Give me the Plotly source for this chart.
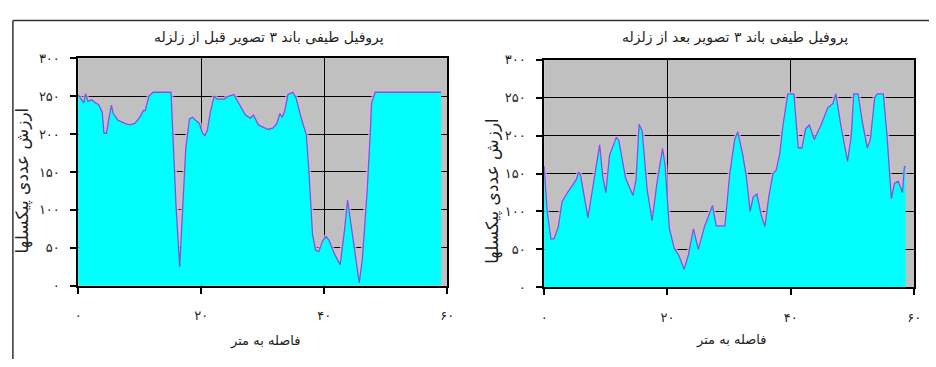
import plotly.graph_objects as go

# Band 3 spectral profile before the earthquake (distance in metres, pixel value)
before_dist = [0, 0.5, 0.9, 1.2, 1.6, 2.2, 2.8, 3.3, 3.9, 4.2, 4.6, 4.9, 5.4, 5.7,
               6.5, 7.6, 8.4, 9.2, 10.0, 10.6, 10.9, 11.5, 12.2, 15.1, 15.4, 15.9,
               16.5, 17.0, 17.5, 18.1, 18.6, 19.1, 19.7, 20.2, 20.6, 21.0, 21.5,
               22.1, 22.6, 23.7, 24.5, 25.3, 26.1, 27.2, 28.0, 28.5, 29.3, 30.4,
               30.9, 31.7, 32.3, 32.8, 33.2, 33.6, 34.1, 34.9, 35.4, 36.3, 37.1,
               37.5, 38.1, 38.6, 39.1, 39.8, 40.3, 40.8, 41.6, 42.6, 43.3, 43.8,
               44.6, 45.7, 46.2, 47.0, 47.5, 47.7, 48.3, 59.0]
before_value = [252, 245, 241, 253, 243, 245, 241, 239, 229, 201, 201, 216, 238, 227,
                218, 214, 212, 214, 222, 231, 231, 250, 255, 255, 203, 106,
                25, 98, 182, 220, 222, 218, 214, 201, 198, 205, 229,
                250, 246, 246, 250, 252, 241, 225, 221, 225, 212, 208,
                206, 208, 214, 227, 222, 231, 252, 255, 248, 220, 199,
                153, 68, 47, 45, 60, 65, 60, 43, 28, 73, 113,
                68, 4, 35, 127, 203, 241, 255, 255]

# Band 3 spectral profile after the earthquake
after_dist = [0, 0.5, 1.1, 1.6, 2.3, 2.9, 3.7, 4.5, 5.2, 5.6, 5.9, 7.1, 7.9, 8.4,
              9.0, 9.5, 10.0, 10.6, 11.7, 12.1, 13.2, 14.4, 14.9, 15.4, 15.9,
              16.7, 17.5, 18.3, 18.8, 19.2, 19.6, 20.3, 21.1, 21.8, 22.7, 23.4,
              24.2, 24.6, 25.0, 26.0, 26.8, 27.3, 27.9, 29.3, 30.1, 30.9, 31.4,
              32.2, 32.8, 33.4, 33.9, 34.5, 35.2, 35.8, 36.4, 37.1, 37.6, 38.2,
              38.7, 39.5, 40.5, 41.2, 41.8, 42.4, 43.0, 43.8, 44.9, 46.0, 46.8,
              47.3, 48.1, 49.2, 49.8, 50.2, 50.9, 51.6, 52.4, 52.9, 53.6, 54.0,
              55.0, 55.6, 56.3, 56.8, 57.4, 58.1, 58.4, 58.6]
after_value = [160, 100, 64, 64, 80, 113, 124, 133, 142, 152, 148, 92, 133, 158,
               188, 146, 125, 174, 198, 194, 144, 121, 142, 215, 206,
               129, 88, 138, 165, 183, 162, 78, 51, 43, 24, 43,
               77, 62, 50, 80, 98, 108, 81, 81, 150, 195, 205,
               175, 145, 100, 119, 123, 95, 80, 118, 150, 154, 176,
               212, 255, 255, 184, 184, 209, 214, 195, 214, 237, 242,
               255, 214, 166, 200, 255, 255, 218, 184, 195, 250, 255,
               255, 200, 117, 137, 140, 125, 158, 160]

x_tick_vals = [0, 20, 40, 60]
x_tick_labels = ["۰", "۲۰", "۴۰", "۶۰"]
y_tick_vals = [0, 50, 100, 150, 200, 250, 300]
y_tick_labels = ["۰", "۵۰", "۱۰۰", "۱۵۰", "۲۰۰", "۲۵۰", "۳۰۰"]

title_before = "پروفیل طیفی باند ۳ تصویر قبل از زلزله"
title_after = "پروفیل طیفی باند ۳ تصویر بعد از زلزله"
x_title = "فاصله به متر"
y_title = "ارزش عددی پیکسلها"

W, H = 936, 367
FONT = "DejaVu Sans"
LINE = "#6F5FCF"
HALO = "rgba(226,172,226,0.75)"
FILL = "#00FFFF"
PLOT_BG = "#C0C0C0"

fig = go.Figure()

for xs, ys, xa, ya in [(before_dist, before_value, "x", "y"),
                       (after_dist, after_value, "x2", "y2")]:
    # soft lavender edge around the profile line
    fig.add_trace(go.Scatter(
        x=xs, y=ys, mode="lines", line=dict(color=HALO, width=4.5),
        xaxis=xa, yaxis=ya, showlegend=False, hoverinfo="skip"))
    fig.add_trace(go.Scatter(
        x=xs, y=ys, mode="lines", fill="tozeroy",
        fillcolor=FILL, line=dict(color=LINE, width=1.3),
        xaxis=xa, yaxis=ya, showlegend=False, hoverinfo="x+y"))

# panel geometry in pixels: (left, right, top, bottom)
panels = {
    "before": (76, 449, 53.3, 290.7),
    "after": (547, 921, 55.0, 292.3),
}


def px_x(p):
    return p / W


def px_y(p):
    return 1 - p / H


def xaxis_style(dom):
    return dict(
        domain=[px_x(dom[0]), px_x(dom[1])], range=[0, 60],
        tickmode="array", tickvals=x_tick_vals, ticktext=x_tick_labels,
        showgrid=True, gridcolor="#000000", gridwidth=1.2,
        showline=True, linecolor="#000000", linewidth=1.5, mirror=True,
        ticks="outside", ticklen=6, tickwidth=1.5, tickcolor="#000000",
        ticklabelstandoff=11, zeroline=False,
        tickfont=dict(family=FONT, size=13, color="#222222"),
        fixedrange=True,
    )


def yaxis_style(dom):
    return dict(
        domain=[px_y(dom[3]), px_y(dom[2])], range=[0, 300],
        tickmode="array", tickvals=y_tick_vals, ticktext=y_tick_labels,
        showgrid=True, gridcolor="#000000", gridwidth=1.2,
        showline=True, linecolor="#000000", linewidth=1.5, mirror=True,
        ticks="outside", ticklen=6, tickwidth=1.5, tickcolor="#000000",
        ticklabelstandoff=8, zeroline=False,
        tickfont=dict(family=FONT, size=13, color="#222222"),
        fixedrange=True,
    )


b, a = panels["before"], panels["after"]
fig.update_layout(
    width=W, height=H,
    margin=dict(l=0, r=0, t=0, b=0),
    paper_bgcolor="#FFFFFF", plot_bgcolor=PLOT_BG,
    font=dict(family=FONT, color="#222222"),
    xaxis=dict(xaxis_style(b), anchor="y"),
    yaxis=dict(yaxis_style(b), anchor="x"),
    xaxis2=dict(xaxis_style(a), anchor="y2"),
    yaxis2=dict(yaxis_style(a), anchor="x2"),
)

annotations = []
for (title, dom, title_y, xt_y, yt_x, yt_cy) in [
    (title_before, b, 32, 348, 20, 181),
    (title_after, a, 32, 347, 494, 192),
]:
    cx = (dom[0] + dom[1]) / 2
    annotations.append(dict(
        text=title, x=px_x(cx + 6), y=px_y(title_y), xref="paper", yref="paper",
        showarrow=False, xanchor="center", yanchor="middle",
        font=dict(family=FONT, size=14, color="#222222")))
    annotations.append(dict(
        text=x_title, x=px_x(cx + 2), y=px_y(xt_y), xref="paper", yref="paper",
        showarrow=False, xanchor="center", yanchor="middle",
        font=dict(family=FONT, size=13, color="#222222")))
    annotations.append(dict(
        text=y_title, x=px_x(yt_x), y=px_y(yt_cy), xref="paper", yref="paper",
        showarrow=False, xanchor="center", yanchor="middle", textangle=-90,
        font=dict(family=FONT, size=17, color="#222222")))
fig.update_layout(annotations=annotations)

# outer chart frame: top and left edges
frame = dict(color="#333333", width=1.5)
fig.add_shape(type="line", xref="paper", yref="paper",
              x0=px_x(10), x1=1.0, y0=px_y(14), y1=px_y(14), line=frame)
fig.add_shape(type="line", xref="paper", yref="paper",
              x0=px_x(10), x1=px_x(10), y0=px_y(14), y1=0.0, line=frame)

fig.write_html("out.html")
